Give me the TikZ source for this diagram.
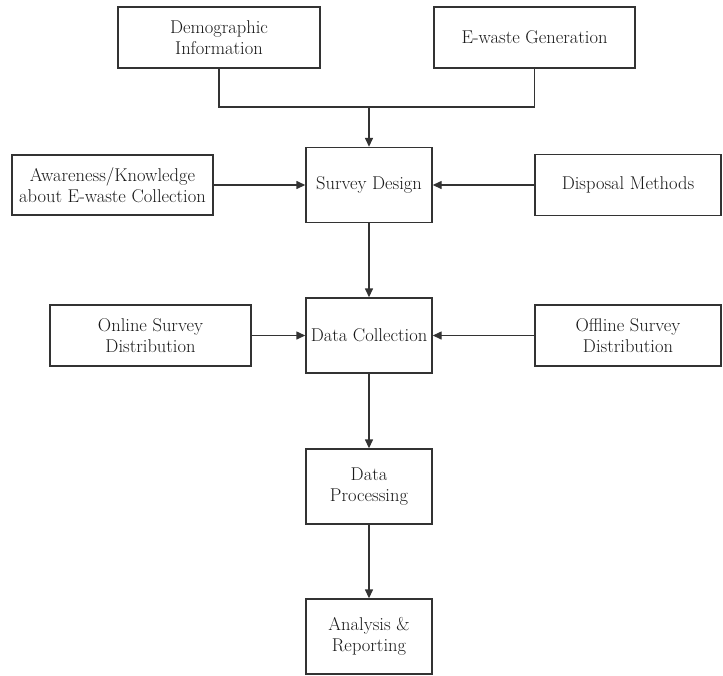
\documentclass[tikz,border=0pt]{standalone}
\usepackage{fontspec}
\usetikzlibrary{arrows.meta}
\begin{document}
\begin{tikzpicture}[x=1pt,y=-1pt,
  box/.style={draw=black!80, line width=1.4pt, align=center, inner sep=0pt,
    font=\fontsize{18.5}{21}\selectfont, text=black!90},
  conn/.style={draw=black!80, line width=1.4pt},
  arr/.style={conn, -{Triangle[length=9pt,width=8pt]}}]
\useasboundingbox (0,0) rectangle (723,675);
\fill[white] (0,0) rectangle (723,675);
\node[box, minimum width=202pt, minimum height=61pt] (demo) at (219,37.5) {Demographic\\Information};
\node[box, minimum width=201pt, minimum height=61pt] (ewaste) at (534.5,37.5) {E-waste Generation};
\node[box, minimum width=201pt, minimum height=60pt] (aware) at (112.5,185) {Awareness/Knowledge\\about E-waste Collection};
\node[box, minimum width=126pt, minimum height=75pt] (survey) at (369,185) {Survey Design};
\node[box, minimum width=186pt, minimum height=61pt] (disp) at (628,185) {Disposal Methods};
\node[box, minimum width=201pt, minimum height=61pt] (online) at (150.5,335.5) {Online Survey\\Distribution};
\node[box, minimum width=126pt, minimum height=75pt] (collect) at (369,335.5) {Data Collection};
\node[box, minimum width=186pt, minimum height=61pt] (offline) at (628,335.5) {Offline Survey\\Distribution};
\node[box, minimum width=126pt, minimum height=75pt] (proc) at (369,486.5) {Data\\Processing};
\node[box, minimum width=126pt, minimum height=75pt] (anal) at (369,636.5) {Analysis \&\\Reporting};
\coordinate (join) at (369,107);
\draw[conn] (demo.south) |- (join) -| (ewaste.south);
\draw[arr] (join) -- (survey.north);
\draw[arr] (aware) -- (survey);
\draw[arr] (disp) -- (survey);
\draw[arr] (online) -- (collect);
\draw[arr] (offline) -- (collect);
\draw[arr] (survey) -- (collect);
\draw[arr] (collect) -- (proc);
\draw[arr] (proc) -- (anal);
\end{tikzpicture}
\end{document}
